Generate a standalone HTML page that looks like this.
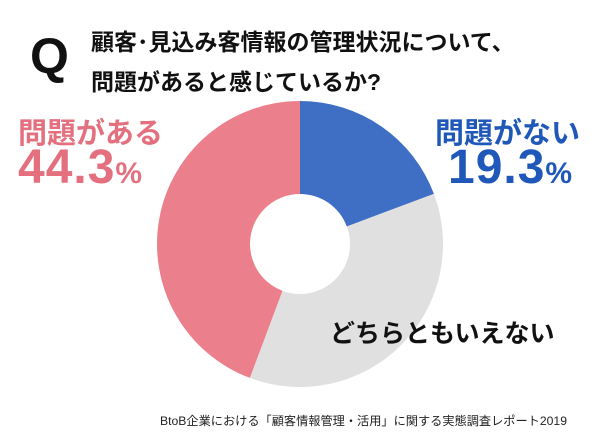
<!DOCTYPE html>
<html><head><meta charset="utf-8"><style>
body{margin:0;width:600px;height:443px;background:#fff;overflow:hidden;font-family:"Liberation Sans","Noto Sans CJK JP",sans-serif;}
.t{position:absolute;white-space:nowrap;font-weight:bold;}
</style></head><body>
<div style="position:relative;width:600px;height:443px;">
<div class="t" style="left:30px;top:27px;font-size:50px;color:#111;">Q</div>
<div class="t" style="left:91px;top:22px;font-size:23px;line-height:40px;color:#111;">顧客･見込み客情報の管理状況について、<br>問題があると感じているか?</div>
<svg id="pie" width="600" height="443" style="position:absolute;left:0;top:0"></svg>
<div class="t" style="left:18px;top:110px;font-size:29px;color:#e4707f;">問題がある</div>
<div class="t" style="left:18px;top:140px;font-size:48px;color:#e4707f;letter-spacing:1px;">44.3<span style="font-size:30px">%</span></div>
<div class="t" style="left:435px;top:110px;font-size:29px;color:#1f58b9;">問題がない</div>
<div class="t" style="left:448px;top:140px;font-size:48px;color:#1f58b9;letter-spacing:1px;">19.3<span style="font-size:30px">%</span></div>
<div class="t" style="left:330px;top:314px;font-size:25px;color:#111;">どちらともいえない</div>
<div class="t" style="left:160px;top:411px;font-size:12.2px;font-weight:normal;color:#222;">BtoB企業における「顧客情報管理・活用」に関する実態調査レポート2019</div>
</div>
<script>
const categories=["問題がない","どちらともいえない","問題がある"];
const values=[19.3,36.4,44.3];
const colors=["#3f6fc4","#e0e0e0","#ec7f8c"];
const svg=document.getElementById('pie');
const cx=300,cy=244,R=143,r=50;
const total=values.reduce((a,b)=>a+b,0);
let a0=0;
function pt(a,rad){return [cx+rad*Math.sin(a),cy-rad*Math.cos(a)];}
values.forEach((v,i)=>{
 const a1=a0+v/total*2*Math.PI;
 const [x0,y0]=pt(a0,R),[x1,y1]=pt(a1,R),[x2,y2]=pt(a1,r),[x3,y3]=pt(a0,r);
 const lg=(a1-a0)>Math.PI?1:0;
 const p=document.createElementNS('http://www.w3.org/2000/svg','path');
 p.setAttribute('d',`M${x0},${y0}A${R},${R} 0 ${lg} 1 ${x1},${y1}L${x2},${y2}A${r},${r} 0 ${lg} 0 ${x3},${y3}Z`);
 p.setAttribute('fill',colors[i]);
 
 
 svg.appendChild(p);
 a0=a1;
});
</script>
</body></html>
